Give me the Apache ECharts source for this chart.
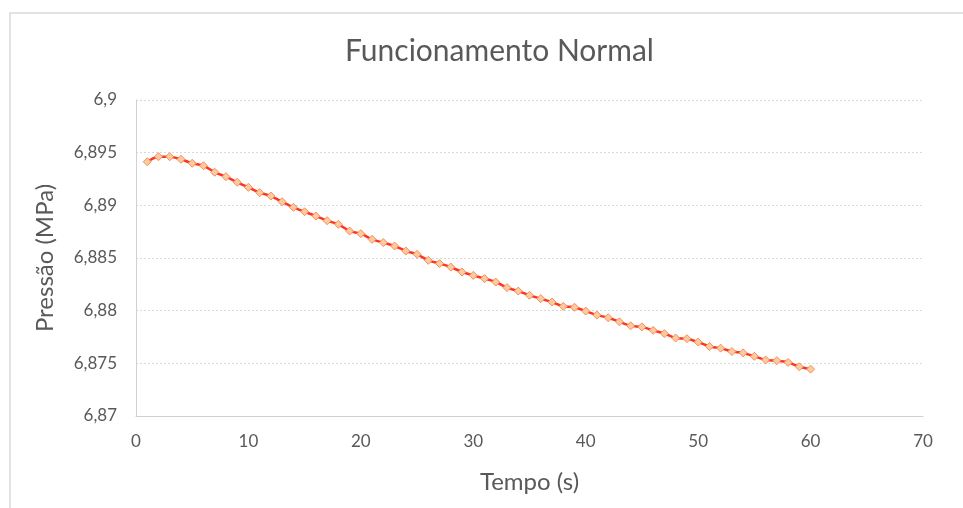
<!DOCTYPE html>
<html>
<head>
<meta charset="utf-8">
<script src="https://cdn.jsdelivr.net/npm/echarts@6/dist/echarts.min.js"></script>
<style>
  html, body { margin: 0; padding: 0; background: #fff; }
  #chart { width: 963px; height: 508px; }
</style>
</head>
<body>
<div id="chart"></div>
<script>
// Time in seconds
const tempo = [
  1, 2, 3, 4, 5, 6, 7, 8, 9, 10,
  11, 12, 13, 14, 15, 16, 17, 18, 19, 20,
  21, 22, 23, 24, 25, 26, 27, 28, 29, 30,
  31, 32, 33, 34, 35, 36, 37, 38, 39, 40,
  41, 42, 43, 44, 45, 46, 47, 48, 49, 50,
  51, 52, 53, 54, 55, 56, 57, 58, 59, 60
];

// Pressure in MPa
const pressao = [
  6.89414, 6.89462, 6.89462, 6.89437, 6.89399, 6.89376, 6.89314, 6.89272, 6.89219, 6.89171,
  6.89120, 6.89088, 6.89034, 6.88981, 6.88939, 6.88898, 6.88854, 6.88820, 6.88756, 6.88731,
  6.88677, 6.88646, 6.88614, 6.88566, 6.88535, 6.88478, 6.88447, 6.88414, 6.88367, 6.88335,
  6.88304, 6.88272, 6.88219, 6.88186, 6.88146, 6.88114, 6.88082, 6.88041, 6.88032, 6.87996,
  6.87958, 6.87933, 6.87894, 6.87856, 6.87846, 6.87813, 6.87782, 6.87740, 6.87734, 6.87702,
  6.87660, 6.87644, 6.87612, 6.87599, 6.87567, 6.87532, 6.87525, 6.87509, 6.87467, 6.87445
];

const titulo = 'Funcionamento Normal';
const nomeX = 'Tempo (s)';
const nomeY = 'Pressão (MPa)';

const pontos = tempo.map((t, i) => [t, pressao[i]]);

const cinzaTexto = '#595959';
const fonte = 'Lato, "Open Sans", sans-serif';

const fmtVirgula = v => parseFloat(v.toFixed(3)).toString().replace('.', ',');

const chart = echarts.init(document.getElementById('chart'), null, { renderer: 'canvas' });

chart.setOption({
  backgroundColor: '#ffffff',
  animation: false,
  graphic: [
    {
      type: 'polyline',
      shape: { points: [[10, 508], [10, 13], [963, 13]] },
      style: { stroke: '#d9d9d9', lineWidth: 1.5, fill: null },
      silent: true
    }
  ],
  title: {
    text: titulo,
    left: 340,
    top: 31,
    textStyle: { color: cinzaTexto, fontSize: 30, fontWeight: 'normal', fontFamily: fonte }
  },
  grid: { left: 136, right: 40, top: 100, bottom: 92 },
  xAxis: {
    type: 'value',
    min: 0,
    max: 70,
    interval: 10,
    name: nomeX,
    nameLocation: 'middle',
    nameGap: 54,
    nameTextStyle: { color: cinzaTexto, fontSize: 24, fontFamily: fonte },
    axisLine: { show: true, lineStyle: { color: '#d0d0d0', width: 1 } },
    axisTick: { show: false },
    splitLine: { show: false },
    axisLabel: { color: cinzaTexto, fontSize: 17, fontFamily: fonte, margin: 17 }
  },
  yAxis: {
    type: 'value',
    min: 6.87,
    max: 6.9,
    interval: 0.005,
    name: nomeY,
    nameLocation: 'middle',
    nameGap: 79,
    nameTextStyle: { color: cinzaTexto, fontSize: 24, fontFamily: fonte },
    axisLine: { show: true, lineStyle: { color: '#d0d0d0', width: 1 } },
    axisTick: { show: false },
    splitLine: { show: true, lineStyle: { color: '#d9d9d9', type: [2, 2], width: 1 } },
    axisLabel: { color: cinzaTexto, fontSize: 17, fontFamily: fonte, margin: 19, formatter: fmtVirgula }
  },
  series: [
    {
      type: 'line',
      data: pontos,
      smooth: 0.3,
      symbol: 'diamond',
      symbolSize: 8,
      showAllSymbol: true,
      lineStyle: { color: '#ff3322', width: 2.5 },
      itemStyle: { color: '#fbc9a3', borderColor: '#f5914f', borderWidth: 1 },
      z: 3
    }
  ]
});
</script>
</body>
</html>
